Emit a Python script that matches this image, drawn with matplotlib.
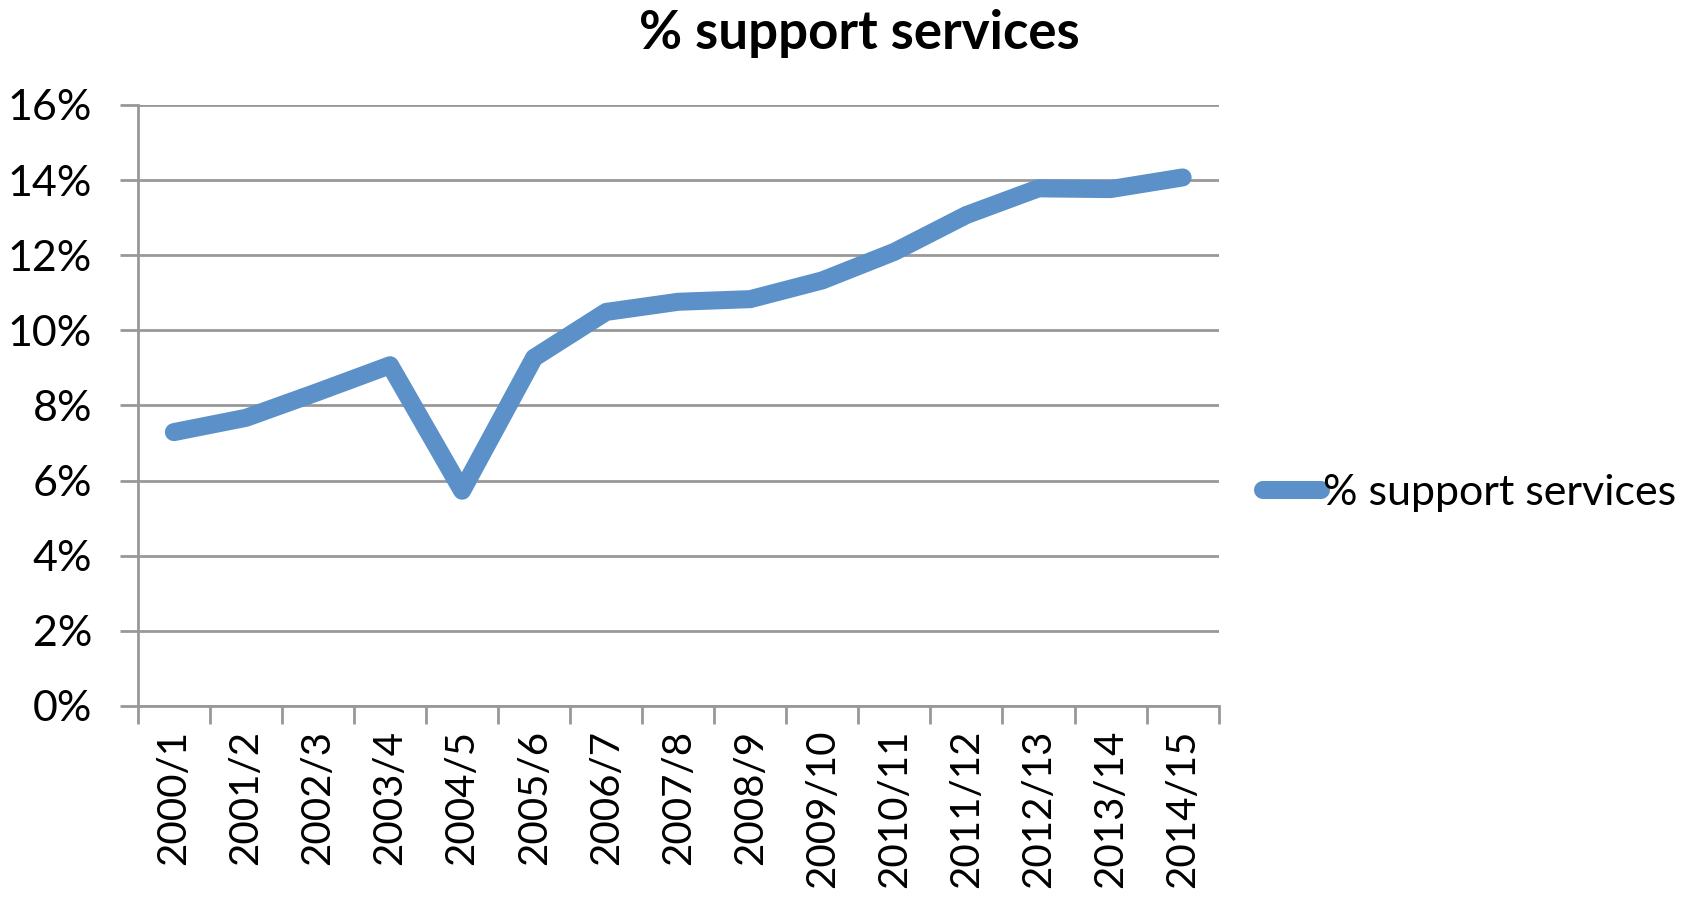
import numpy as np
import matplotlib.pyplot as plt
from matplotlib.ticker import PercentFormatter

years = ["2000/1", "2001/2", "2002/3", "2003/4", "2004/5", "2005/6", "2006/7",
         "2007/8", "2008/9", "2009/10", "2010/11", "2011/12", "2012/13",
         "2013/14", "2014/15"]
support = [7.29, 7.67, 8.36, 9.07, 5.73, 9.27, 10.49, 10.76, 10.83, 11.33,
           12.09, 13.07, 13.78, 13.76, 14.07]

line_color = "#5B91C8"
grid_color = "#989898"

plt.rcParams["font.family"] = ["Lato", "DejaVu Sans"]

fig = plt.figure(figsize=(17.02, 8.97), dpi=100)
ax = fig.add_axes([0.081, 0.213, 0.635, 0.670])

x = np.arange(len(years))
ax.plot(x, support, color=line_color, lw=13, solid_capstyle="round",
        solid_joinstyle="round", label="% support services", zorder=3)

ax.set_xlim(-0.5, len(years) - 0.5)
ax.set_ylim(0, 16)
ax.set_yticks(np.arange(0, 17, 2))
ax.yaxis.set_major_formatter(PercentFormatter(decimals=0))
ax.grid(axis="y", color=grid_color, lw=2)

# category ticks sit between the labels, like a spreadsheet chart
ax.set_xticks(np.arange(-0.5, len(years), 1))
ax.set_xticklabels([])
ax.set_xticks(x, minor=True)
ax.set_xticklabels(years, minor=True, rotation=90, fontsize=29)
ax.tick_params(axis="x", which="minor", length=0, pad=17)
ax.tick_params(axis="x", which="major", length=13, width=2, color=grid_color)
ax.tick_params(axis="y", length=13, width=2, color=grid_color,
               labelsize=31, pad=20)

for side in ["top", "right"]:
    ax.spines[side].set_visible(False)
for side in ["left", "bottom"]:
    ax.spines[side].set_color(grid_color)
    ax.spines[side].set_linewidth(2)

fig.suptitle("% support services", x=0.505, y=0.99, fontsize=38,
             fontweight="bold")

fig.legend(loc="center left", bbox_to_anchor=(0.742, 0.45), frameon=False,
           fontsize=31, handlelength=1.35, handletextpad=0.05,
           borderpad=0, borderaxespad=0)

fig.savefig("out.png", dpi=100)
